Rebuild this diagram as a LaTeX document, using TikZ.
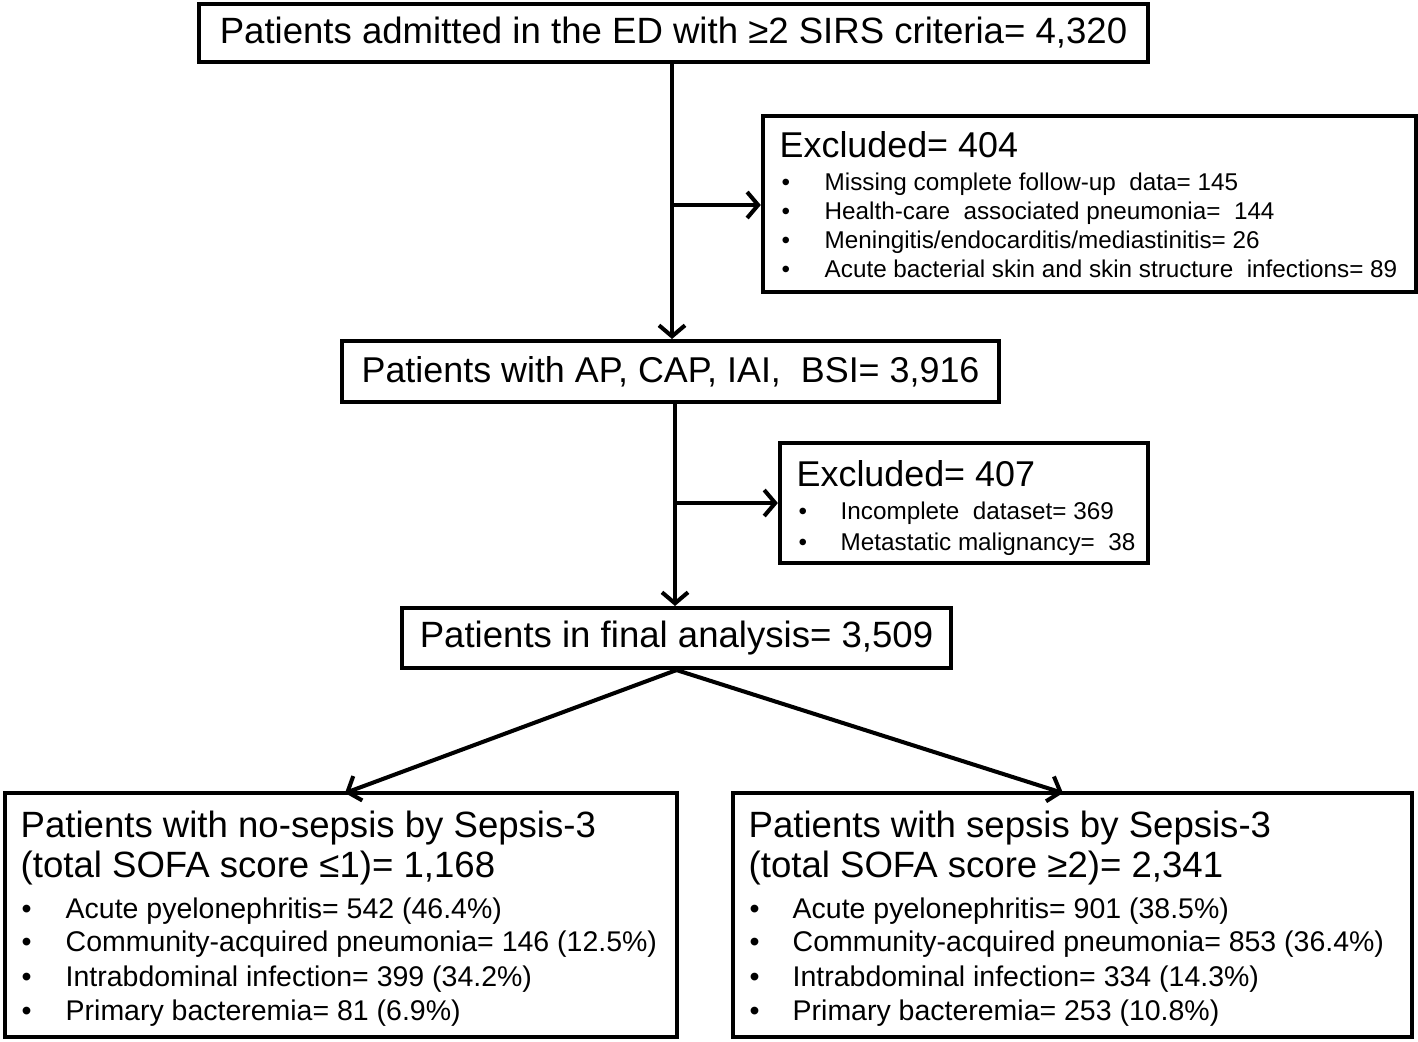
\documentclass[tikz,border=0pt]{standalone}
\usepackage{fontspec}
\setmainfont{Liberation Sans}
\usetikzlibrary{arrows.meta}
\begin{document}
\begin{tikzpicture}[x=0.01cm,y=-0.01cm,
  box/.style={draw=black, line width=1.15pt, rectangle, inner sep=0pt, fill=white},
  big/.style={font=\fontsize{10.2}{12}\selectfont},
  bigr/.style={font=\fontsize{10.4}{12}\selectfont},
  med/.style={font=\fontsize{8.1}{10}\selectfont},
  sml/.style={font=\fontsize{6.9}{8}\selectfont},
  tx/.style={anchor=base west, inner sep=0pt},
  arr/.style={line width=1.15pt, -{Straight Barb[length=0.11cm,width=0.26cm,line width=1.15pt]}},
  ln/.style={line width=1.15pt}
]
\useasboundingbox (0,0) rectangle (1418,1041);
\fill[white] (0,0) rectangle (1418,1041);

% boxes
\node[box, bigr, minimum width=9.49cm, minimum height=0.58cm] (top) at (673.5,33)
  {Patients admitted in the ED with ≥2 SIRS criteria= 4,320};
\node[box, minimum width=6.53cm, minimum height=1.76cm] (exc1) at (1089.5,204) {};
\node[box, big, minimum width=6.57cm, minimum height=0.61cm] (mid) at (670.5,371.5)
  {Patients with AP, CAP, IAI,~ BSI= 3,916};
\node[box, minimum width=3.68cm, minimum height=1.20cm] (exc2) at (964,503) {};
\node[box, bigr, minimum width=5.49cm, minimum height=0.60cm] (final) at (676.5,638)
  {Patients in final analysis= 3,509};
\node[box, minimum width=6.72cm, minimum height=2.44cm] (bl) at (341,915) {};
\node[box, minimum width=6.79cm, minimum height=2.44cm] (br) at (1072.5,915) {};

% exc1 text
\node[tx, big] (e1t) at (779,157) {Excluded= 404};
\node[tx, sml] (e1b1) at (781,190) {•};
\node[tx, sml] (e1a) at (824,190) {Missing complete follow-up~ data= 145};
\node[tx, sml] (e1b2) at (781,219) {•};
\node[tx, sml] (e1b) at (824,219) {Health-care~ associated pneumonia=~ 144};
\node[tx, sml] (e1b3) at (781,248) {•};
\node[tx, sml] (e1c) at (824,248) {Meningitis/endocarditis/mediastinitis= 26};
\node[tx, sml] (e1b4) at (781,277) {•};
\node[tx, sml] (e1d) at (824,277) {Acute bacterial skin and skin structure~ infections= 89};

% exc2 text
\node[tx, big] (e2t) at (796,486) {Excluded= 407};
\node[tx, sml] (e2b1) at (798,519) {•};
\node[tx, sml] (e2a) at (840,519) {Incomplete~ dataset= 369};
\node[tx, sml] (e2b2) at (798,550) {•};
\node[tx, sml] (e2b) at (840,550) {Metastatic malignancy=~ 38};

% bottom left
\node[tx, bigr] (blt1) at (20,837) {Patients with no-sepsis by Sepsis-3};
\node[tx, bigr] (blt2) at (20,877) {(total SOFA score ≤1)= 1,168};
\node[tx, med] (blb1) at (21,918) {•};
\node[tx, med] (bla) at (65,918) {Acute pyelonephritis= 542 (46.4\%)};
\node[tx, med] (blb2) at (21,951) {•};
\node[tx, med] (blb) at (65,951) {Community-acquired pneumonia= 146 (12.5\%)};
\node[tx, med] (blb3) at (21,986) {•};
\node[tx, med] (blc) at (65,986) {Intrabdominal infection= 399 (34.2\%)};
\node[tx, med] (blb4) at (21,1020) {•};
\node[tx, med] (bld) at (65,1020) {Primary bacteremia= 81 (6.9\%)};

% bottom right
\node[tx, bigr] (brt1) at (748,837) {Patients with sepsis by Sepsis-3};
\node[tx, bigr] (brt2) at (748,877) {(total SOFA score ≥2)= 2,341};
\node[tx, med] (brb1) at (749,918) {•};
\node[tx, med] (bra) at (792,918) {Acute pyelonephritis= 901 (38.5\%)};
\node[tx, med] (brb2) at (749,951) {•};
\node[tx, med] (brb) at (792,951) {Community-acquired pneumonia= 853 (36.4\%)};
\node[tx, med] (brb3) at (749,986) {•};
\node[tx, med] (brc) at (792,986) {Intrabdominal infection= 334 (14.3\%)};
\node[tx, med] (brb4) at (749,1020) {•};
\node[tx, med] (brd) at (792,1020) {Primary bacteremia= 253 (10.8\%)};

% connectors
\coordinate (j1) at (672,205);
\coordinate (j2) at (675,503);
\draw[arr] (top.south -| j1) -- (mid.north -| j1);
\draw[arr] (j1) -- (j1 -| exc1.west);
\draw[arr] (mid.south -| j2) -- (final.north -| j2);
\draw[arr] (j2) -- (j2 -| exc2.west);
\coordinate (lt) at (345,793);
\coordinate (rt) at (1063,793);
\draw[arr] (final.south) -- (lt);
\draw[arr] (final.south) -- (rt);
\end{tikzpicture}
\end{document}
